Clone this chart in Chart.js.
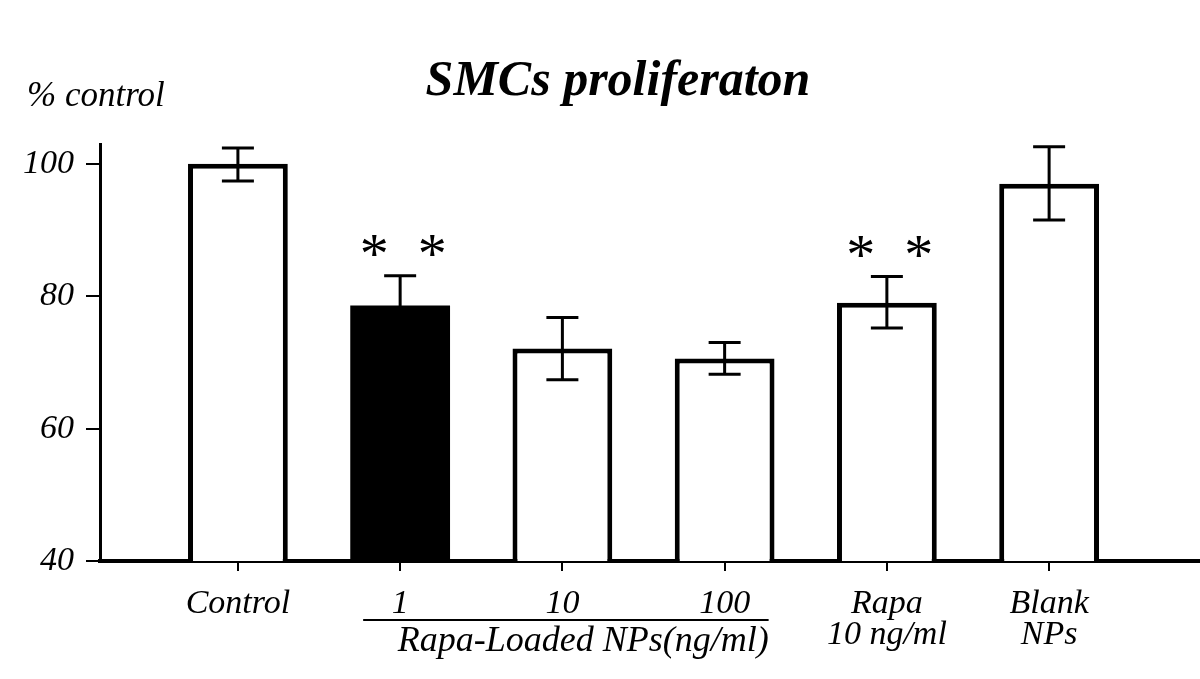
<!DOCTYPE html>
<html>
<head>
<meta charset="utf-8">
<script src="https://cdn.jsdelivr.net/npm/chart.js@4"></script>
<style>
  body { margin: 0; background: #fff; }
  #wrap { width: 1200px; height: 679px; position: relative; }
</style>
</head>
<body>
<div id="wrap"><canvas id="smcChart"></canvas></div>
<script>
// values (% of control)
const categories = ['Control', '1', '10', '100', ['Rapa', '10 ng/ml'], ['Blank', 'NPs']];
const positions = [1, 2, 3, 4, 5, 6];
const means = [100, 78.6, 72.1, 70.6, 79.0, 97.0];
const errHigh = [102.4, 83.1, 76.8, 73.0, 83.0, 102.6];
const errLow = [97.4, 74.1, 67.4, 68.2, 75.2, 91.5];
const significant = [false, true, false, false, true, false];
const fills = ['#ffffff', '#000000', '#ffffff', '#ffffff', '#ffffff', '#ffffff'];
const yTicks = [40, 60, 80, 100];

const SERIF = '"Liberation Serif", "Times New Roman", serif';

const errorBars = {
  id: 'errorBars',
  afterDatasetsDraw(chart) {
    const { ctx, scales: { x, y } } = chart;
    ctx.save();
    ctx.strokeStyle = '#000';
    ctx.lineWidth = 3;
    positions.forEach((p, i) => {
      const px = x.getPixelForValue(p);
      const hi = y.getPixelForValue(errHigh[i]);
      const lo = y.getPixelForValue(errLow[i]);
      ctx.beginPath();
      ctx.moveTo(px, hi);
      ctx.lineTo(px, lo);
      ctx.moveTo(px - 16, hi);
      ctx.lineTo(px + 16, hi);
      ctx.moveTo(px - 16, lo);
      ctx.lineTo(px + 16, lo);
      ctx.stroke();
    });
    // significance marks
    ctx.fillStyle = '#000';
    ctx.font = '58px ' + SERIF;
    ctx.textAlign = 'center';
    ctx.textBaseline = 'middle';
    positions.forEach((p, i) => {
      if (!significant[i]) return;
      const px = x.getPixelForValue(p);
      const ty = y.getPixelForValue(errHigh[i]) - 18;
      ctx.fillText('*', px - 26, ty);
      ctx.fillText('*', px + 32, ty);
    });
    ctx.restore();
  }
};

const decorations = {
  id: 'decorations',
  afterDraw(chart) {
    const { ctx, scales: { x } } = chart;
    ctx.save();
    ctx.fillStyle = '#000';
    ctx.textBaseline = 'middle';
    ctx.textAlign = 'center';
    ctx.font = 'italic bold 50px ' + SERIF;
    ctx.fillText('SMCs proliferaton', 618, 82);
    ctx.textAlign = 'left';
    ctx.font = 'italic 35px ' + SERIF;
    ctx.fillText('% control', 27, 97);

    // group bracket under the NP doses
    const x0 = x.getPixelForValue(positions[1]) - 37;
    const x1 = x.getPixelForValue(positions[3]) + 44;
    ctx.strokeStyle = '#000';
    ctx.lineWidth = 2;
    ctx.beginPath();
    ctx.moveTo(x0, 620);
    ctx.lineTo(x1, 620);
    ctx.stroke();
    ctx.textAlign = 'right';
    ctx.font = 'italic 36px ' + SERIF;
    ctx.fillText('Rapa-Loaded NPs(ng/ml)', x1, 642);
    ctx.restore();
  }
};

new Chart(document.getElementById('smcChart'), {
  type: 'bar',
  data: {
    datasets: [{
      data: positions.map((p, i) => ({ x: p, y: means[i] })),
      backgroundColor: fills,
      borderColor: '#000',
      borderWidth: fills.map(f => (f === '#000000' ? 0 : 5)),
      borderSkipped: 'start',
      barPercentage: 0.615,
      categoryPercentage: 1,
    }],
  },
  options: {
    responsive: true,
    maintainAspectRatio: false,
    animation: false,
    layout: { padding: { top: 144, left: 0, right: 0, bottom: 0 } },
    plugins: {
      legend: { display: false },
      tooltip: { enabled: false },
    },
    scales: {
      x: {
        type: 'linear',
        offset: false,
        min: 0.15,
        max: 6.93,
        afterBuildTicks(scale) {
          scale.ticks = positions.map(v => ({ value: v }));
        },
        afterFit(scale) {
          scale.height = 118;
        },
        ticks: {
          autoSkip: false,
          maxRotation: 0,
          color: '#000',
          padding: 18,
          font: { family: SERIF, style: 'italic', size: 34, lineHeight: 0.9 },
          callback: (val, idx) => categories[idx],
        },
        grid: { offset: false, drawOnChartArea: false, drawTicks: true, tickLength: 10, color: '#000', lineWidth: 2 },
        border: { color: '#000', width: 4 },
      },
      y: {
        min: 40,
        max: 103,
        afterBuildTicks(scale) {
          scale.ticks = yTicks.map(v => ({ value: v }));
        },
        afterFit(scale) {
          scale.width = 100;
        },
        ticks: {
          color: '#000',
          padding: 12,
          font: { family: SERIF, style: 'italic', size: 34 },
        },
        grid: { drawOnChartArea: false, drawTicks: true, tickLength: 14, color: '#000', lineWidth: 2 },
        border: { color: '#000', width: 3 },
      },
    },
  },
  plugins: [errorBars, decorations],
});
</script>
</body>
</html>
